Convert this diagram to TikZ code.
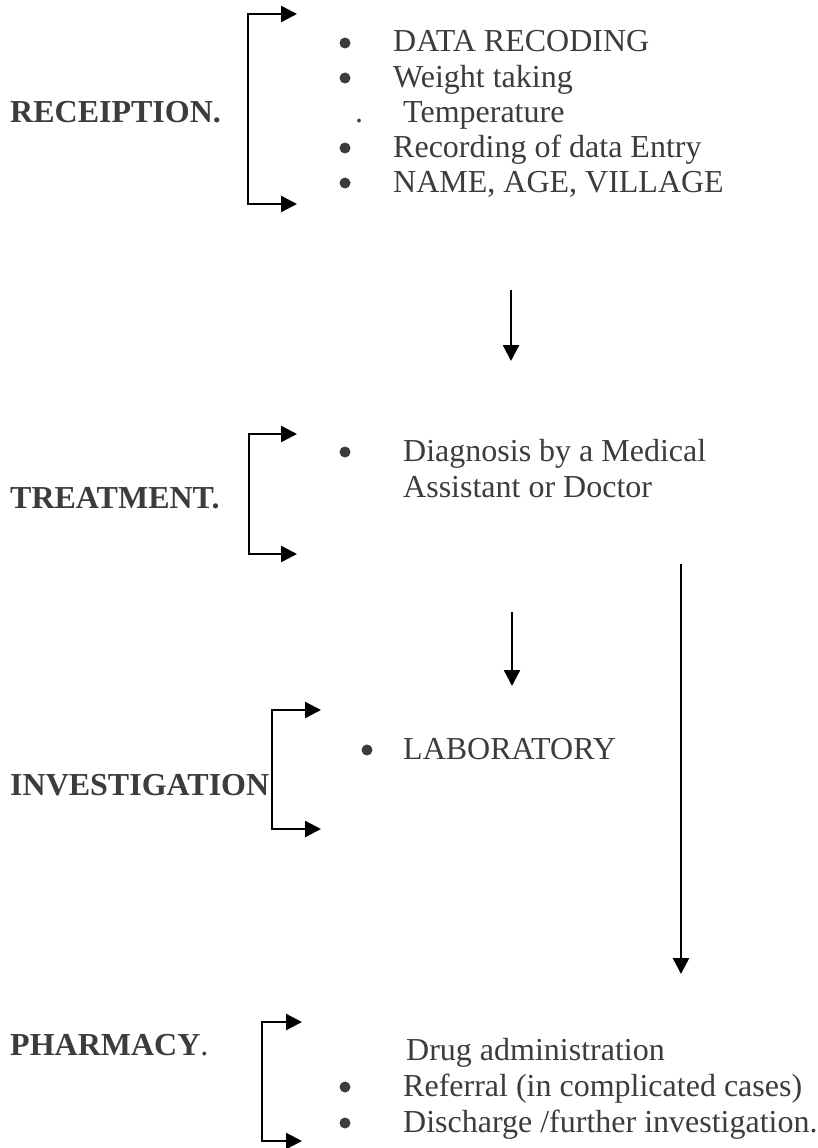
\documentclass[tikz,border=0pt]{standalone}
\usepackage{fontspec}
\setmainfont{Liberation Serif}
\usetikzlibrary{arrows.meta}
\definecolor{txt}{HTML}{3C3C3C}
\begin{document}
\begin{tikzpicture}[x=1pt,y=-1pt,
  conn/.style={line width=2.4pt,-{Triangle[length=16pt,width=16pt]}},
  brack/.style={line width=2.4pt,{Triangle[length=16pt,width=16pt]}-{Triangle[length=16pt,width=16pt]}},
  lab/.style={anchor=base west,inner sep=0pt,font=\fontsize{32}{37}\selectfont\bfseries,text=txt},
  item/.style={anchor=base west,inner sep=0pt,font=\fontsize{32}{37}\selectfont,text=txt},
  bul/.style={circle,fill=txt,draw=none,inner sep=0pt,minimum size=11pt}]
\useasboundingbox (0,0) rectangle (817,1148);

% ---------- RECEPTION ----------
\node[lab] (rec) at (10,122) {RECEIPTION.};
\coordinate (r1t) at (297,14);
\coordinate (r1a) at (248,14);
\coordinate (r1b) at (248,204);
\coordinate (r1e) at (297,204);
\draw[brack] (r1t) -- (r1a) -- (r1b) -- (r1e);

\node[bul] (b11) at (345,43) {};
\node[item] (i11) at (393,52) {DATA RECODING};
\node[bul] (b12) at (345,78) {};
\node[item] (i12) at (393,87) {Weight taking};
\node[item] (d13) at (355,122) {.};
\node[item] (i13) at (403,122) {Temperature};
\node[bul] (b14) at (345,148) {};
\node[item] (i14) at (393,157) {Recording of data Entry};
\node[bul] (b15) at (345,183) {};
\node[item] (i15) at (393,192) {NAME, AGE, VILLAGE};

\coordinate (a1s) at (511,290);
\coordinate (a1e) at (511,361);
\draw[conn] (a1s) -- (a1e);

% ---------- TREATMENT ----------
\node[lab] (tre) at (10,508) {TREATMENT.};
\coordinate (t1t) at (297,434);
\coordinate (t1a) at (249,434);
\coordinate (t1b) at (249,554);
\coordinate (t1e) at (297,554);
\draw[brack] (t1t) -- (t1a) -- (t1b) -- (t1e);

\node[bul] (b21) at (345,452) {};
\node[item] (i21) at (403,461) {Diagnosis by a Medical};
\node[item] (i22) at (403,497) {Assistant or Doctor};

\coordinate (a2s) at (512,612);
\coordinate (a2e) at (512,686);
\draw[conn] (a2s) -- (a2e);

\coordinate (a3s) at (681,564);
\coordinate (a3e) at (681,974);
\draw[conn] (a3s) -- (a3e);

% ---------- INVESTIGATION ----------
\node[lab] (inv) at (10,795) {INVESTIGATION};
\coordinate (v1t) at (321,710);
\coordinate (v1a) at (272,710);
\coordinate (v1b) at (272,829);
\coordinate (v1e) at (321,829);
\draw[brack] (v1t) -- (v1a) -- (v1b) -- (v1e);

\node[bul] (b31) at (367,750) {};
\node[item] (i31) at (403,759) {LABORATORY};

% ---------- PHARMACY ----------
\node[lab] (pha) at (10,1055) {PHARMACY\textmd{.}};
\coordinate (p1t) at (302,1022);
\coordinate (p1a) at (262,1022);
\coordinate (p1b) at (262,1141);
\coordinate (p1e) at (302,1141);
\draw[brack] (p1t) -- (p1a) -- (p1b) -- (p1e);

\node[item] (i41) at (406,1060) {Drug administration};
\node[bul] (b42) at (345,1087) {};
\node[item] (i42) at (403,1096) {Referral (in complicated cases)};
\node[bul] (b43) at (345,1123) {};
\node[item] (i43) at (403,1132) {Discharge /further investigation.};
\end{tikzpicture}
\end{document}
